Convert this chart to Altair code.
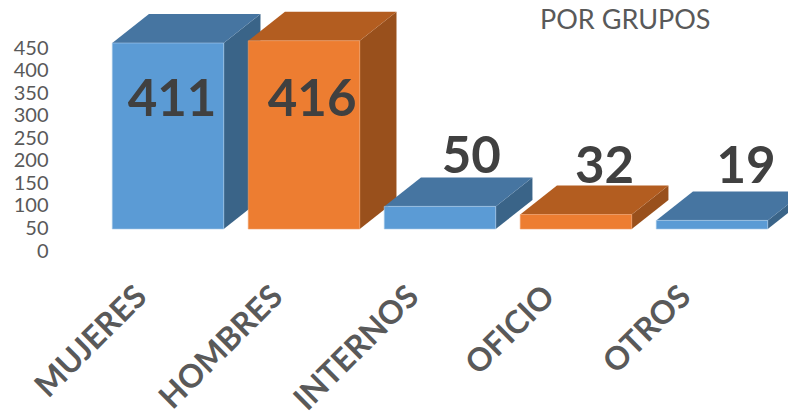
import altair as alt
import pandas as pd

categories = ["MUJERES", "HOMBRES", "INTERNOS", "OFICIO", "OTROS"]
values = [411, 416, 50, 32, 19]
families = ["blue", "orange", "blue", "orange", "blue"]
y_ticks = [0, 50, 100, 150, 200, 250, 300, 350, 400, 450]

palette = {
    "blue": {"front": "#5B9BD5", "side": "#3A6488", "top": "#4675A1", "edge": "#A9CBE9"},
    "orange": {"front": "#ED7D31", "side": "#99501C", "top": "#B35D20", "edge": "#F0A06A"},
}

HALF = 0.41
DX = 0.27
DY = 64
FONT = "Lato"
GREY = "#595959"
DARK = "#404040"
label_shift_x = [0.03, 0.06, 0.23, 0.21, 0.25]
label_base = [250, 250, 124, 102, 102]

x_scale = alt.Scale(domain=[-0.853, 4.559], nice=False, zero=False)
y_scale = alt.Scale(domain=[-90.6, 488.4], nice=False, zero=False)
axis_scale = alt.Scale(domain=[-42.1, 538.8], nice=False, zero=False)

cat_expr = "[" + ",".join(f"'{c}'" for c in categories) + "][datum.value]"
x_axis = alt.Axis(
    values=list(range(5)),
    labelExpr=cat_expr,
    labelAngle=-45,
    labelAlign="right",
    labelBaseline="middle",
    labelFont=FONT,
    labelFontSize=32,
    labelFontWeight="bold",
    labelColor=GREY,
    labelPadding=21,
    labelOffset=-27,
    labelOverlap=False,
    labelBound=False,
    labelFlush=False,
    domain=False,
    ticks=False,
    grid=False,
    title=None,
)
X = alt.X("x:Q", scale=x_scale, axis=x_axis)
Y = alt.Y("y:Q", scale=y_scale, axis=None)

layers = []
for i, (v, fam) in enumerate(zip(values, families)):
    c = palette[fam]
    L, R = i - HALF, i + HALF
    side = pd.DataFrame({"x": [R, R + DX], "y": [0, DY], "y2": [v, v + DY]})
    top = pd.DataFrame({
        "x": [L, L + DX, R, R + DX],
        "y": [v, v, v, v + DY],
        "y2": [v, v + DY, v + DY, v + DY],
    })
    front = pd.DataFrame({"x": [L], "x2": [R], "y": [0], "y2": [v]})
    layers.append(alt.Chart(side).mark_area(color=c["side"], clip=False).encode(x=X, y=Y, y2="y2:Q"))
    layers.append(alt.Chart(top).mark_area(color=c["top"], clip=False).encode(x=X, y=Y, y2="y2:Q"))
    layers.append(
        alt.Chart(front)
        .mark_rect(color=c["front"], stroke=c["edge"], strokeWidth=0.6)
        .encode(x=X, x2="x2:Q", y=Y, y2="y2:Q")
    )

labels = pd.DataFrame({
    "x": [i + s for i, s in enumerate(label_shift_x)],
    "y": label_base,
    "t": [str(v) for v in values],
})
layers.append(
    alt.Chart(labels)
    .mark_text(font=FONT, fontSize=51, fontWeight="bold", color=DARK, baseline="alphabetic", align="center")
    .encode(x=X, y=Y, text="t:N")
)

y_axis_layer = (
    alt.Chart(pd.DataFrame({"x": [0] * len(y_ticks), "y": y_ticks}))
    .mark_point(opacity=0)
    .encode(
        x=X,
        y=alt.Y(
            "y:Q",
            scale=axis_scale,
            axis=alt.Axis(
                values=y_ticks,
                labelFont=FONT,
                labelFontSize=20,
                labelColor=GREY,
                labelPadding=4,
                domain=False,
                ticks=False,
                grid=False,
                title=None,
            ),
        ),
    )
)

chart = (
    alt.layer(*layers, y_axis_layer)
    .resolve_scale(y="independent", x="shared")
    .properties(
        width=736,
        height=262,
        autosize=alt.AutoSizeParams(type="none"),
        padding={"left": 44, "top": 0, "right": 0, "bottom": 141},
        title=alt.TitleParams(
            "POR GRUPOS",
            anchor="start",
            frame="group",
            dx=488,
            offset=-27,
            font=FONT,
            fontSize=27,
            fontWeight="normal",
            color=GREY,
        ),
        background="white",
    )
    .configure_view(stroke=None)
)

chart.save("out.html", embed_options={"renderer": "svg", "actions": False})
